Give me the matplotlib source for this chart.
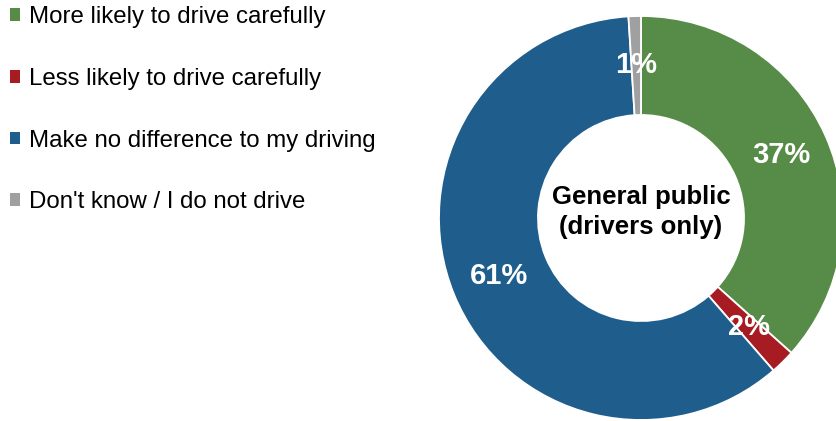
import matplotlib.pyplot as plt
import numpy as np
import matplotlib.patches as mpatches

plt.rcParams['font.family'] = ['Liberation Sans', 'DejaVu Sans']

categories = ['More likely to drive carefully',
              'Less likely to drive carefully',
              'Make no difference to my driving',
              "Don't know / I do not drive"]
values = [37, 2, 61, 1]
labels = ['37%', '2%', '61%', '1%']
colors = ['#568C48', '#A61C22', '#1F5E8C', '#A0A0A0']
center_label = 'General public\n(drivers only)'

W, H = 836, 421
fig = plt.figure(figsize=(W / 100, H / 100), dpi=100)

# donut centre and radius in pixels
cx, cy, R = 641, 218, 202
ax = fig.add_axes([(cx - R) / W, (H - cy - R) / H, 2 * R / W, 2 * R / H])

wedges, _ = ax.pie(values, colors=colors, startangle=90, counterclock=False,
                   radius=1.0,
                   wedgeprops=dict(width=0.49, edgecolor='white', linewidth=1.3))
ax.set_xlim(-1, 1)
ax.set_ylim(-1, 1)
ax.set_aspect('equal')
ax.axis('off')

for w, lab in zip(wedges, labels):
    ang = np.deg2rad(0.5 * (w.theta1 + w.theta2))
    r = 0.76
    ax.text(r * np.cos(ang), r * np.sin(ang), lab, ha='center', va='center',
            color='white', fontsize=21, fontweight='bold')

ax.text(0, 0.03, center_label, ha='center', va='center', fontsize=18.5,
        fontweight='bold', color='black', linespacing=1.3)

handles = [mpatches.Patch(facecolor=c, edgecolor='none') for c in colors]
fig.legend(handles, categories, loc='upper left', bbox_to_anchor=(0.0, 1.008),
           frameon=False, fontsize=17.3, handlelength=0.43, handleheight=0.43,
           handletextpad=0.36, labelspacing=1.65, borderaxespad=0.0)

plt.savefig('out.png', dpi=100)
